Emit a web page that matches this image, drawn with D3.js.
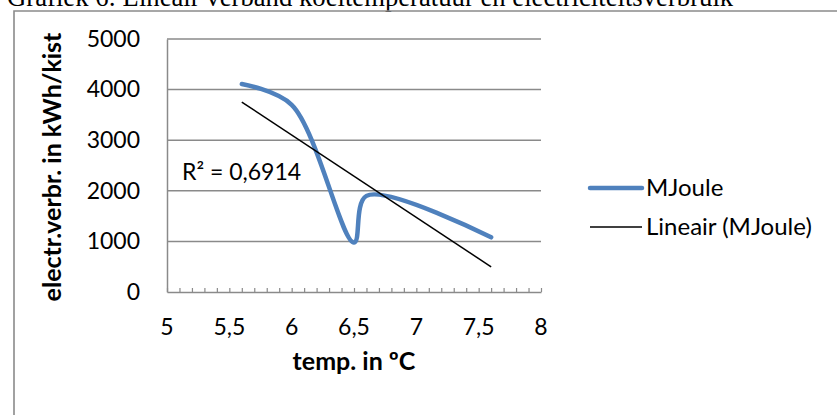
<!DOCTYPE html>
<html>
<head>
<meta charset="utf-8">
<script src="https://d3js.org/d3.v7.min.js"></script>
<style>
  body { margin: 0; background: #fff; }
  svg { display: block; }
  text { font-family: Lato, "Open Sans", sans-serif; fill: #000; }
</style>
</head>
<body>
<script>
// data
var temps = [5.6, 6.0, 6.5, 6.6, 7.6];
var mjoule = [4110, 3700, 980, 1900, 1080];
var xTicks = [5, 5.5, 6, 6.5, 7, 7.5, 8];
var yTicks = [0, 1000, 2000, 3000, 4000, 5000];
var seriesName = "MJoule";
var trendName = "Lineair (MJoule)";
var r2Label = "R\u00b2 = 0,6914";
var title = "Grafiek 6: Lineair verband koeltemperatuur en electriciteitsverbruik";

var width = 837,
    height = 415;

var svg = d3.select("body").append("svg")
    .attr("width", width)
    .attr("height", height);

var nl = d3.formatLocale({decimal: ",", thousands: ".", grouping: [3], currency: ["", ""]});
var fmt = nl.format("~g");

var x = d3.scaleLinear().domain([5, 8]).range([167, 541]);
var y = d3.scaleLinear().domain([0, 5000]).range([292, 39]);

// caption above the frame (cut off at the top, as in the source)
svg.append("text")
    .attr("x", 7)
    .attr("y", 6)
    .style("font-family", "'Liberation Serif', 'Times New Roman', serif")
    .style("font-size", "26.7px")
    .text(title);

// chart frame
svg.append("path")
    .attr("d", "M14," + height + "V11H" + width)
    .attr("fill", "none")
    .attr("stroke", "#8a8a8a")
    .attr("stroke-width", 1.6);

// gridlines
svg.append("g")
  .selectAll("line")
    .data(yTicks.filter(function(d) { return d > 0; }))
  .enter().append("line")
    .attr("x1", x(5))
    .attr("x2", x(8))
    .attr("y1", function(d) { return y(d); })
    .attr("y2", function(d) { return y(d); })
    .attr("stroke", "#8a8a8a")
    .attr("stroke-width", 1.5);

// y axis
var yAxis = svg.append("g")
    .attr("transform", "translate(" + x(5) + ",0)")
    .call(d3.axisLeft(y).tickValues(yTicks).tickSize(0).tickPadding(27).tickFormat(fmt));
yAxis.select(".domain").attr("stroke", "#8a8a8a").attr("stroke-width", 1.5);
yAxis.selectAll("text").style("font-size", "23px").style("font-family", "Lato");

// x axis: minor ticks pointing inward
var xAxis = svg.append("g")
    .attr("transform", "translate(0," + y(0) + ")")
    .call(d3.axisBottom(x).tickValues(d3.range(5, 8.001, 0.1)).tickSizeInner(-4).tickSizeOuter(0).tickFormat(""));
xAxis.select(".domain").attr("stroke", "#8a8a8a").attr("stroke-width", 1.5);
xAxis.selectAll(".tick line").attr("stroke", "#8a8a8a").attr("stroke-width", 1.2);

svg.append("g")
  .selectAll("text")
    .data(xTicks)
  .enter().append("text")
    .attr("x", function(d) { return x(d); })
    .attr("y", 335)
    .attr("text-anchor", "middle")
    .style("font-size", "23px")
    .text(fmt);

// axis titles
svg.append("text")
    .attr("transform", "translate(61,167) rotate(-90)")
    .attr("text-anchor", "middle")
    .style("font-size", "25px")
    .style("font-weight", "bold")
    .text("electr.verbr. in kWh/kist");

svg.append("text")
    .attr("x", 354)
    .attr("y", 370)
    .attr("text-anchor", "middle")
    .style("font-size", "25px")
    .style("font-weight", "bold")
    .text("temp. in \u00baC");

// series, smoothed line
var pts = temps.map(function(t, i) { return [t, mjoule[i]]; });

var line = d3.line()
    .x(function(d) { return x(d[0]); })
    .y(function(d) { return y(d[1]); })
    .curve(d3.curveCatmullRom.alpha(0.5));

svg.append("path")
    .datum(pts)
    .attr("d", line)
    .attr("fill", "none")
    .attr("stroke", "#4f81bd")
    .attr("stroke-width", 4.5)
    .attr("stroke-linecap", "round");

// linear trendline (least squares)
var mx = d3.mean(temps), my = d3.mean(mjoule);
var sxy = d3.sum(pts, function(d) { return (d[0] - mx) * (d[1] - my); });
var sxx = d3.sum(temps, function(t) { return (t - mx) * (t - mx); });
var slope = sxy / sxx, icpt = my - slope * mx;
var ext = d3.extent(temps);

svg.append("line")
    .attr("x1", x(ext[0]))
    .attr("y1", y(icpt + slope * ext[0]))
    .attr("x2", x(ext[1]))
    .attr("y2", y(icpt + slope * ext[1]))
    .attr("stroke", "#000")
    .attr("stroke-width", 1.5);

svg.append("text")
    .attr("x", 182)
    .attr("y", 180)
    .style("font-size", "23px")
    .text(r2Label);

// legend
var legend = svg.append("g");
legend.append("line")
    .attr("x1", 590).attr("x2", 642)
    .attr("y1", 188).attr("y2", 188)
    .attr("stroke", "#4f81bd")
    .attr("stroke-width", 4.5)
    .attr("stroke-linecap", "round");
legend.append("text")
    .attr("x", 646).attr("y", 188)
    .attr("dy", ".35em")
    .style("font-size", "24px")
    .text(seriesName);
legend.append("line")
    .attr("x1", 590).attr("x2", 642)
    .attr("y1", 227).attr("y2", 227)
    .attr("stroke", "#000")
    .attr("stroke-width", 1.5);
legend.append("text")
    .attr("x", 646).attr("y", 227)
    .attr("dy", ".35em")
    .style("font-size", "24px")
    .text(trendName);
</script>
</body>
</html>
